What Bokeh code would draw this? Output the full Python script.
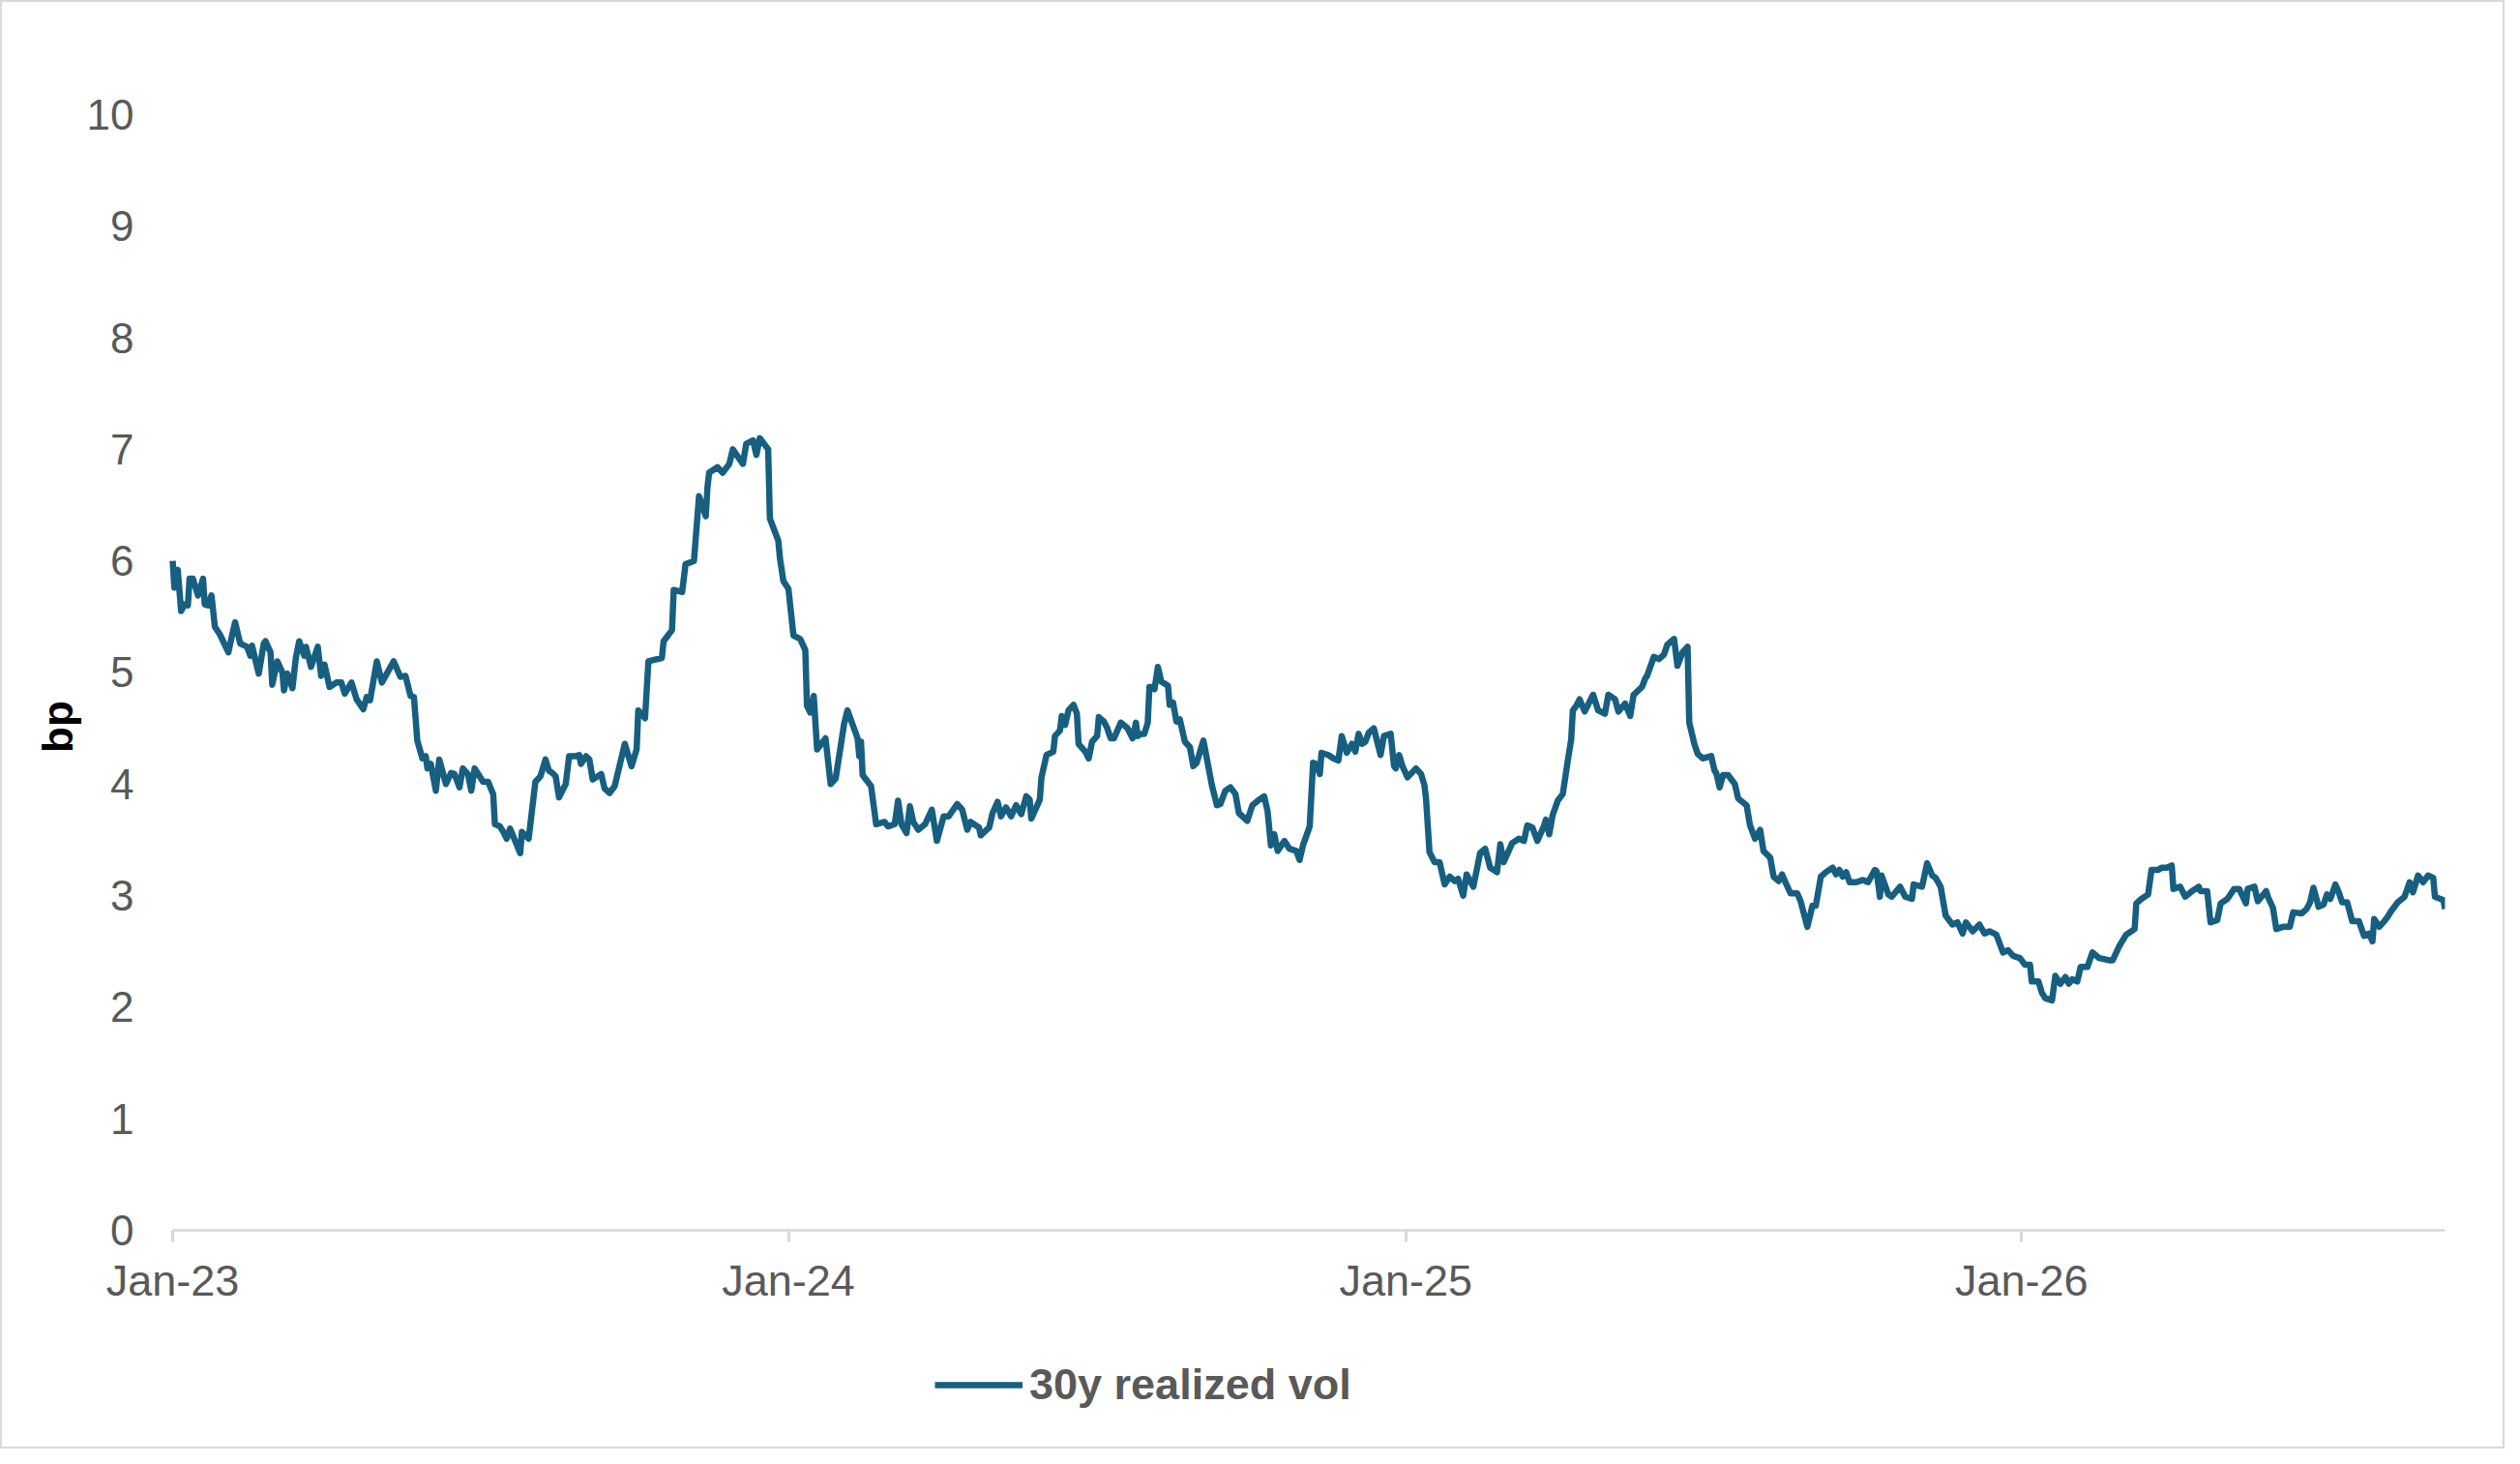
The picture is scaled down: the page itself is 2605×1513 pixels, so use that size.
#!/usr/bin/env python3

import pandas as pd
from bokeh.embed import file_html
from bokeh.models import ColumnDataSource, DatetimeTickFormatter, FixedTicker, Legend, LegendItem, Range1d
from bokeh.plotting import figure
from bokeh.resources import INLINE

startDate = "2023-01-01"
yearTicks = ["2023-01-01", "2024-01-01", "2025-01-01", "2026-01-01"]
yTicks = [0, 1, 2, 3, 4, 5, 6, 7, 8, 9, 10]
seriesName = "30y realized vol"
yLabel = "bp"

# days since 2023-01-01 and the realized vol (bp)
days2023 = [0, 1, 3, 5, 7, 9, 10, 12, 15, 18, 19, 21, 23, 25, 28, 33, 35, 37, 40, 44,
	46, 47, 51, 54, 55, 58, 59, 62, 65, 66, 68, 71, 73, 75, 78, 79, 82, 86, 88, 90,
	93, 97, 100, 102, 106, 109, 113, 115, 117, 121, 124, 131, 135, 138, 141, 143, 145, 148, 150, 151,
	153, 156, 158, 162, 165, 167, 170, 172, 175, 177, 179, 184, 187, 190, 191, 194, 196, 198, 200, 203,
	206, 207, 211, 215, 218, 221, 223, 225, 227, 229, 233, 235, 239, 241, 242, 245, 247, 249, 254, 256,
	259, 262, 268, 272, 275, 276, 280, 282, 290, 291, 296, 297, 302, 304, 309, 312, 316, 317, 318, 323,
	326, 330, 332, 338, 340, 344, 346, 348, 353, 354, 359, 360, 362]
vol2023 = [6.0, 5.76, 5.92, 5.55, 5.61, 5.6, 5.84, 5.84, 5.69, 5.84, 5.61, 5.6, 5.69, 5.41, 5.34, 5.18, 5.32, 5.45, 5.26, 5.23,
	5.15, 5.24, 4.99, 5.26, 5.28, 5.18, 4.89, 5.1, 5.0, 4.84, 4.99, 4.86, 5.13, 5.28, 5.15, 5.23, 5.05, 5.23, 4.97, 5.07,
	4.87, 4.91, 4.91, 4.81, 4.91, 4.76, 4.67, 4.78, 4.75, 5.1, 4.91, 5.1, 4.96, 4.97, 4.79, 4.78, 4.39, 4.23, 4.25, 4.14,
	4.18, 3.94, 4.22, 4.0, 4.1, 4.09, 3.97, 4.14, 4.09, 3.94, 4.14, 4.02, 4.02, 3.91, 3.64, 3.62, 3.57, 3.51, 3.6, 3.49,
	3.38, 3.57, 3.51, 4.02, 4.07, 4.22, 4.12, 4.1, 4.07, 3.88, 4.0, 4.25, 4.25, 4.26, 4.18, 4.25, 4.22, 4.04, 4.09, 3.96,
	3.92, 3.98, 4.36, 4.16, 4.31, 4.66, 4.59, 5.1, 5.13, 5.28, 5.38, 5.74, 5.72, 5.97, 6.0, 6.58, 6.4, 6.66, 6.79, 6.84,
	6.79, 6.87, 7.0, 6.87, 7.05, 7.08, 6.95, 7.1, 7.0, 6.38, 6.18, 6.02, 5.82]

days2024 = [365, 368, 372, 375, 376, 378, 380, 382, 387, 390, 393, 396, 398, 400, 406, 407, 408, 409, 414, 417,
	422, 424, 428, 430, 432, 435, 437, 439, 442, 446, 450, 453, 457, 460, 465, 468, 471, 473, 478, 479,
	484, 486, 489, 491, 494, 497, 500, 503, 506, 508, 509, 514, 515, 518, 522, 523, 526, 527, 529, 531,
	534, 536, 537, 541, 543, 545, 548, 549, 552, 554, 556, 558, 562, 566, 569, 571, 572, 574, 576, 578,
	579, 581, 582, 584, 586, 590, 591, 593, 595, 597, 600, 603, 605, 607, 611, 616, 619, 621, 624, 627,
	630, 632, 637, 640, 644, 647, 649, 651, 653, 655, 659, 662, 666, 668, 670, 674, 676, 678, 680, 681,
	685, 688, 691, 693, 696, 699, 701, 703, 705, 707, 709, 712, 714, 716, 718, 722, 724, 725, 727, 729]
vol2024 = [5.75, 5.33, 5.3, 5.2, 4.7, 4.64, 4.79, 4.31, 4.41, 4.0, 4.05, 4.34, 4.54, 4.66, 4.41, 4.25, 4.38, 4.08, 3.98, 3.64,
	3.66, 3.62, 3.64, 3.85, 3.64, 3.56, 3.8, 3.66, 3.59, 3.64, 3.77, 3.49, 3.71, 3.71, 3.82, 3.77, 3.59, 3.66, 3.61, 3.54,
	3.61, 3.74, 3.84, 3.71, 3.79, 3.71, 3.81, 3.73, 3.89, 3.86, 3.69, 3.86, 4.06, 4.26, 4.29, 4.43, 4.48, 4.61, 4.53, 4.66,
	4.71, 4.63, 4.36, 4.29, 4.23, 4.38, 4.43, 4.6, 4.56, 4.5, 4.41, 4.41, 4.55, 4.5, 4.41, 4.55, 4.43, 4.45, 4.45, 4.55,
	4.87, 4.87, 4.85, 5.05, 4.92, 4.88, 4.71, 4.73, 4.56, 4.58, 4.38, 4.33, 4.16, 4.19, 4.39, 3.99, 3.81, 3.82, 3.94, 3.97,
	3.91, 3.74, 3.67, 3.81, 3.86, 3.89, 3.76, 3.45, 3.55, 3.4, 3.49, 3.42, 3.4, 3.32, 3.45, 3.62, 4.19, 4.18, 4.09, 4.28,
	4.26, 4.23, 4.21, 4.43, 4.28, 4.36, 4.29, 4.45, 4.36, 4.38, 4.46, 4.5, 4.38, 4.26, 4.43, 4.45, 4.16, 4.14, 4.26, 4.16]

days2025 = [732, 737, 740, 742, 743, 745, 748, 751, 754, 757, 760, 762, 765, 767, 771, 775, 778, 781, 785, 787,
	789, 794, 798, 801, 803, 806, 809, 813, 814, 816, 818, 821, 824, 827, 829, 830, 832, 834, 837, 842,
	845, 849, 851, 855, 857, 861, 864, 866, 871, 873, 874, 878, 881, 884, 886, 890, 892, 895, 898, 899,
	902, 904, 907, 912, 914, 915, 917, 919, 922, 926, 928, 933, 935, 938, 941, 943, 947, 949, 952, 954,
	956, 959, 963, 965, 969, 972, 974, 977, 980, 984, 986, 988, 990, 992, 994, 998, 1002, 1005, 1009, 1010,
	1012, 1013, 1017, 1019, 1024, 1027, 1031, 1032, 1037, 1040, 1043, 1045, 1048, 1051, 1055, 1058, 1061, 1063, 1067, 1071,
	1074, 1077, 1081, 1085, 1088, 1091, 1095]
vol2025 = [4.06, 4.14, 4.09, 3.99, 3.86, 3.39, 3.3, 3.3, 3.1, 3.17, 3.13, 3.15, 3.0, 3.19, 3.08, 3.38, 3.42, 3.25, 3.21, 3.46,
	3.3, 3.47, 3.51, 3.49, 3.63, 3.61, 3.49, 3.63, 3.68, 3.55, 3.72, 3.85, 3.91, 4.21, 4.4, 4.66, 4.7, 4.76, 4.65, 4.8,
	4.66, 4.63, 4.8, 4.76, 4.65, 4.72, 4.61, 4.8, 4.87, 4.95, 4.97, 5.14, 5.12, 5.16, 5.25, 5.3, 5.06, 5.18, 5.23, 4.55,
	4.36, 4.27, 4.23, 4.25, 4.12, 4.1, 3.97, 4.08, 4.08, 4.0, 3.87, 3.81, 3.63, 3.51, 3.59, 3.4, 3.34, 3.17, 3.13, 3.19,
	3.12, 3.02, 3.02, 2.95, 2.72, 2.91, 2.91, 3.17, 3.21, 3.25, 3.19, 3.23, 3.17, 3.21, 3.12, 3.12, 3.14, 3.12, 3.23, 3.22,
	2.99, 3.18, 3.01, 2.99, 3.08, 2.99, 2.97, 3.1, 3.08, 3.29, 3.18, 3.16, 3.08, 2.82, 2.74, 2.76, 2.66, 2.76, 2.68, 2.74,
	2.66, 2.68, 2.65, 2.49, 2.51, 2.46, 2.44]

days2026 = [1098, 1101, 1102, 1106, 1108, 1110, 1114, 1116, 1119, 1122, 1124, 1126, 1129, 1131, 1135, 1138, 1142, 1148, 1150, 1154,
	1158, 1163, 1164, 1167, 1171, 1173, 1177, 1179, 1182, 1185, 1186, 1190, 1193, 1197, 1201, 1202, 1206, 1208, 1212, 1214,
	1218, 1222, 1225, 1229, 1230, 1234, 1236, 1241, 1242, 1245, 1247, 1251, 1255, 1257, 1262, 1265, 1267, 1269, 1271, 1272,
	1275, 1277, 1279, 1282, 1284, 1286, 1289, 1292, 1294, 1296, 1299, 1302, 1304, 1305, 1308, 1311, 1313, 1315, 1319, 1323,
	1326, 1328, 1331, 1334, 1337, 1340, 1341, 1346, 1347]
vol2026 = [2.38, 2.38, 2.23, 2.23, 2.13, 2.08, 2.06, 2.28, 2.21, 2.27, 2.21, 2.25, 2.23, 2.36, 2.36, 2.49, 2.44, 2.42, 2.42, 2.55,
	2.65, 2.7, 2.93, 2.97, 3.01, 3.23, 3.23, 3.25, 3.25, 3.27, 3.06, 3.08, 2.99, 3.04, 3.08, 3.04, 3.04, 2.76, 2.78, 2.93,
	2.97, 3.06, 3.06, 2.93, 3.06, 3.08, 2.95, 3.04, 2.99, 2.89, 2.7, 2.72, 2.72, 2.85, 2.84, 2.88, 2.94, 3.07, 2.96, 2.9,
	2.92, 3.01, 2.97, 3.1, 3.03, 2.94, 2.94, 2.77, 2.77, 2.77, 2.64, 2.66, 2.59, 2.79, 2.72, 2.77, 2.81, 2.86, 2.94, 2.99,
	3.12, 3.03, 3.18, 3.12, 3.18, 3.16, 2.99, 2.96, 2.88]

lineColor = "#175f80"
labelColor = "#595959"
axisColor = "#d9d9d9"
fontName = "Liberation Sans"

# the frame fills the whole figure, so the axes are pinned inside it and
# the dates, the value labels and the legend are all drawn within it
padDaysLeft = 95.2
yTop = 10.919
yBottom = -1.891


def toMs(stamp):
	return pd.Timestamp(stamp).value // 10**6


def plotVol(dates, vols):

	source = ColumnDataSource(data=dict(date=dates, vol=vols))
	start = pd.Timestamp(startDate)

	plot = figure(width=2589, height=1497, x_axis_type="datetime",
		x_range=Range1d(start=start - pd.Timedelta(days=padDaysLeft), end=dates[-1]), y_range=Range1d(yBottom, yTop),
		output_backend="svg", toolbar_location=None,
		min_border_left=10, min_border_right=64, min_border_top=10, min_border_bottom=10)
	plot.outline_line_color = None
	plot.background_fill_color = "white"
	plot.border_fill_color = "white"
	plot.styles = {"border": "2px solid #d9d9d9", "box-sizing": "border-box"}
	plot.xgrid.visible = False
	plot.ygrid.visible = False

	plot.xaxis.fixed_location = 0
	plot.xaxis.bounds = (toMs(start), toMs(dates[-1]))
	plot.xaxis.ticker = FixedTicker(ticks=[toMs(t) for t in yearTicks])
	plot.xaxis.formatter = DatetimeTickFormatter(years="%b-%y", months="%b-%y", days="%b-%y")
	plot.xaxis.axis_line_color = axisColor
	plot.xaxis.axis_line_width = 2.5
	plot.xaxis.major_tick_line_color = axisColor
	plot.xaxis.major_tick_line_width = 3
	plot.xaxis.major_tick_in = 0
	plot.xaxis.major_tick_out = 12
	plot.xaxis.minor_tick_line_color = None
	plot.xaxis.major_label_standoff = 15
	plot.xaxis.major_label_text_font = fontName
	plot.xaxis.major_label_text_font_size = "45px"
	plot.xaxis.major_label_text_color = labelColor

	plot.yaxis.fixed_location = toMs(start)
	plot.yaxis.ticker = FixedTicker(ticks=yTicks)
	plot.yaxis.axis_line_color = None
	plot.yaxis.major_tick_line_color = None
	plot.yaxis.minor_tick_line_color = None
	plot.yaxis.major_tick_out = 0
	plot.yaxis.major_label_standoff = 40
	plot.yaxis.major_label_text_font = fontName
	plot.yaxis.major_label_text_font_size = "44px"
	plot.yaxis.major_label_text_color = labelColor
	plot.yaxis.axis_label = yLabel
	plot.yaxis.axis_label_text_font = fontName
	plot.yaxis.axis_label_text_font_style = "bold"
	plot.yaxis.axis_label_text_font_size = "44px"
	plot.yaxis.axis_label_text_color = "black"
	plot.yaxis.axis_label_standoff = 3

	rVol = plot.line("date", "vol", source=source, line_width=6.5, color=lineColor, line_join="round")

	legend = Legend(items=[LegendItem(label=seriesName, renderers=[rVol])], location=(954, 32))
	legend.orientation = "horizontal"
	legend.border_line_color = None
	legend.background_fill_alpha = 0
	legend.padding = 0
	legend.margin = 0
	legend.glyph_width = 91
	legend.glyph_height = 40
	legend.label_standoff = 7
	legend.label_text_font = fontName
	legend.label_text_font_style = "bold"
	legend.label_text_font_size = "45px"
	legend.label_text_color = labelColor
	plot.add_layout(legend)

	return plot


def main():
	start = pd.Timestamp(startDate)
	days = days2023 + days2024 + days2025 + days2026
	vols = vol2023 + vol2024 + vol2025 + vol2026
	dates = [start + pd.Timedelta(days=d) for d in days]

	plot = plotVol(dates, vols)
	open("out.html", "w").write(file_html(plot, INLINE))


if __name__ == "__main__":
	main()
